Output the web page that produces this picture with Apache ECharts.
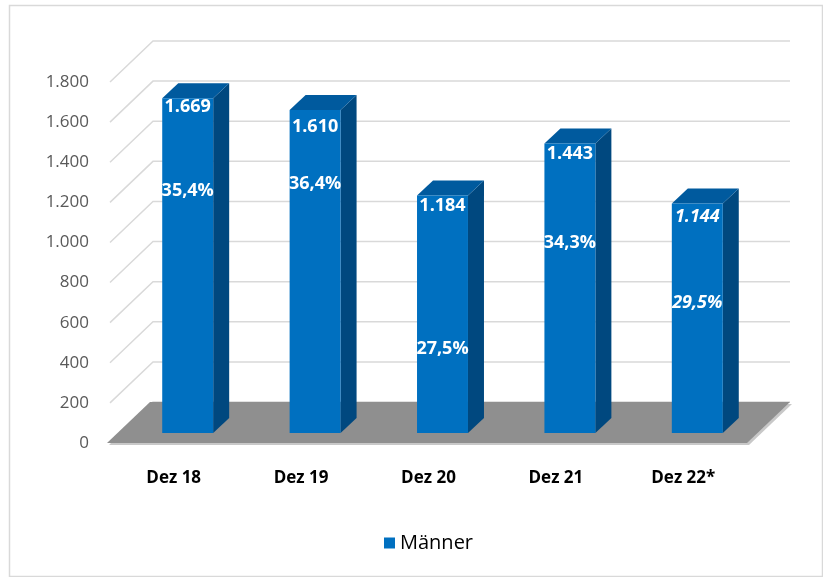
<!DOCTYPE html>
<html>
<head>
<meta charset="utf-8">
<script src="https://cdn.jsdelivr.net/npm/echarts@6/dist/echarts.min.js"></script>
<style>
  html, body { margin: 0; padding: 0; background: #fff; }
  #chart { width: 823px; height: 577px; }
</style>
</head>
<body>
<div id="chart"></div>
<script>
const categories = ['Dez 18', 'Dez 19', 'Dez 20', 'Dez 21', 'Dez 22*']
const values = [1669, 1610, 1184, 1443, 1144]
const shares = ['35,4%', '36,4%', '27,5%', '34,3%', '29,5%']
const yTicks = [0, 200, 400, 600, 800, 1000, 1200, 1400, 1600, 1800]

// where the labels sit (layout only)
const shareLabelLevel = [1205, 1244, 421, 947, 650]
const valueLabelDrop = [7, 15, 8, 8, 11]
const italicLabel = [false, false, false, false, true]

const FONT = "'Open Sans', 'Noto Sans', sans-serif"
const WALL = [43, -41]   // full depth of the floor / side wall
const FRONT = [14, -10]  // bar front face offset
const DEPTH = [16, -15]  // bar thickness

function fmt(v) {
  return String(v).replace(/\B(?=(\d{3})+(?!\d))/g, '.')
}

function renderGrid(params, api) {
  const cs = params.coordSys
  const y = api.coord([0, api.value(0)])[1]
  const x0 = cs.x
  const x1 = cs.x + cs.width
  return {
    type: 'polyline',
    shape: { points: [[x0, y], [x0 + WALL[0], y + WALL[1]], [x1 + WALL[0], y + WALL[1]]] },
    style: { stroke: '#d9d9d9', lineWidth: 1.5, fill: null }
  }
}

function renderFloor(params, api) {
  const cs = params.coordSys
  const y = api.coord([0, 0])[1]
  const x0 = cs.x - 3
  const x1 = cs.x + cs.width
  const pts = [[x0, y], [x1, y], [x1 + WALL[0], y + WALL[1]], [x0 + WALL[0], y + WALL[1]]]
  const rim = pts.map(p => [p[0] + 2, p[1] + 2])
  return {
    type: 'group',
    children: [
      { type: 'polygon', shape: { points: rim }, style: { fill: '#c8c8c8' } },
      { type: 'polygon', shape: { points: pts }, style: { fill: '#8f8f8f' } }
    ]
  }
}

function renderBar(params, api) {
  const i = params.dataIndex
  const v = api.value(1)
  const c = api.coord([api.value(0), v])
  const base = api.coord([api.value(0), 0])
  const w = api.size([1, 0])[0] * 0.4
  const l = c[0] - w / 2 + FRONT[0]
  const r = l + w
  const t = c[1] + FRONT[1]
  const b = base[1] + FRONT[1]
  const dx = DEPTH[0], dy = DEPTH[1]
  const cx = (l + r) / 2
  const sy = api.coord([0, shareLabelLevel[i]])[1] + FRONT[1]
  const textStyle = (txt, y) => ({
    type: 'text',
    style: {
      text: txt, x: cx, y: y, align: 'center', verticalAlign: 'middle',
      fill: '#fff', font: (italicLabel[i] ? 'italic ' : '') + 'bold 18px ' + FONT
    }
  })
  return {
    type: 'group',
    children: [
      { type: 'polygon', shape: { points: [[r, t], [r + dx, t + dy], [r + dx, b + dy], [r, b]] }, style: { fill: '#00487f' } },
      { type: 'polygon', shape: { points: [[l, t], [l + dx, t + dy], [r + dx, t + dy], [r, t]] }, style: { fill: '#005a9e' } },
      { type: 'rect', shape: { x: l, y: t, width: w, height: b - t }, style: { fill: '#0070c0' } },
      textStyle(fmt(v), t + valueLabelDrop[i] + 2),
      textStyle(shares[i], sy)
    ]
  }
}

const chart = echarts.init(document.getElementById('chart'), null, { renderer: 'canvas' })

chart.setOption({
  animation: false,
  textStyle: { fontFamily: FONT },
  graphic: [{
    type: 'rect', left: 7, top: 3,
    shape: { width: 813, height: 571 },
    style: { fill: null, stroke: '#d9d9d9', lineWidth: 1.5 }
  }],
  grid: { left: 110, right: 76, top: 82, bottom: 134 },
  legend: {
    left: 379, top: 528,
    itemWidth: 11, itemHeight: 11, itemGap: 5,
    textStyle: { fontSize: 20, color: '#000', fontFamily: FONT },
    data: [{ name: 'Männer', icon: 'rect' }]
  },
  xAxis: {
    type: 'category',
    data: categories,
    axisLine: { show: false },
    axisTick: { show: false },
    axisLabel: { margin: 27, fontSize: 17, fontWeight: 'bold', color: '#000' }
  },
  yAxis: {
    type: 'value',
    min: 0, max: 1800, interval: 200,
    splitLine: { show: false },
    axisLine: { show: false },
    axisLabel: { margin: 21, fontSize: 17, color: '#595959', formatter: v => fmt(v) }
  },
  series: [
    {
      type: 'custom', silent: true, z: 1,
      renderItem: renderGrid,
      data: yTicks.map(v => [v])
    },
    {
      type: 'custom', silent: true, z: 2,
      renderItem: renderFloor,
      data: [[0]]
    },
    {
      name: 'Männer',
      type: 'custom', z: 3,
      itemStyle: { color: '#0070c0' },
      renderItem: renderBar,
      encode: { x: 0, y: 1 },
      data: categories.map((c, i) => [i, values[i]])
    }
  ]
})
</script>
</body>
</html>
